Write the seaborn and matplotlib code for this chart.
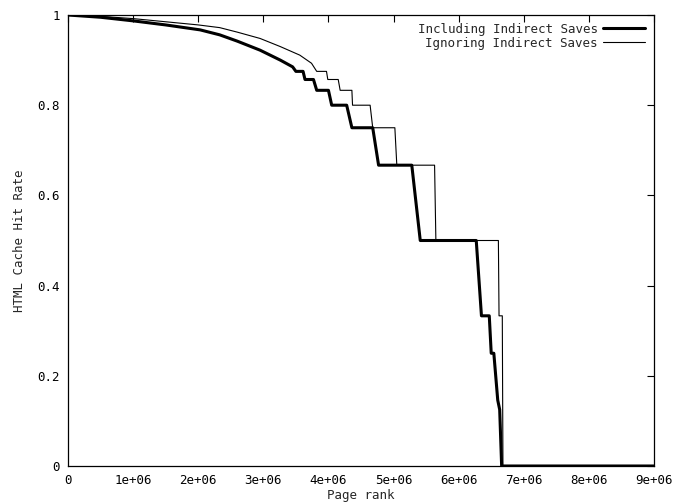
import matplotlib
matplotlib.use("Agg")
import matplotlib.pyplot as plt
import seaborn as sns
import pandas as pd

# Data (rank in units of 1e6)
incl_rank = [0.0, 0.5, 1.0, 1.5, 2.03, 2.33, 2.6, 2.95, 3.26, 3.45, 3.5, 3.61, 3.64, 3.77,
             3.82, 4.0, 4.05, 4.28, 4.36, 4.68, 4.77, 5.28, 5.41, 6.27, 6.35, 6.47, 6.5,
             6.54, 6.6, 6.63, 6.66, 9.0]
incl_rate = [1.0, 0.995, 0.987, 0.978, 0.967, 0.956, 0.942, 0.922, 0.900, 0.885, 0.875, 0.875,
             0.857, 0.857, 0.833, 0.833, 0.8, 0.8, 0.75, 0.75, 0.667, 0.667, 0.5, 0.5, 0.333,
             0.333, 0.25, 0.25, 0.146, 0.125, 0.0, 0.0]

ign_rank = [0.0, 0.5, 1.0, 1.5, 2.0, 2.33, 2.6, 2.95, 3.26, 3.56, 3.74, 3.82, 3.97, 3.99,
            4.15, 4.18, 4.36, 4.37, 4.64, 4.68, 5.02, 5.05, 5.63, 5.65, 6.61, 6.62, 6.67,
            6.68, 9.0]
ign_rate = [1.0, 0.997, 0.992, 0.985, 0.978, 0.972, 0.962, 0.948, 0.930, 0.911, 0.893, 0.875,
            0.875, 0.857, 0.857, 0.833, 0.833, 0.8, 0.8, 0.75, 0.75, 0.667, 0.667, 0.5, 0.5,
            0.333, 0.333, 0.0, 0.0]

x_ticks = [0, 1, 2, 3, 4, 5, 6, 7, 8, 9]
x_labels = ["0", "1e+06", "2e+06", "3e+06", "4e+06", "5e+06", "6e+06", "7e+06", "8e+06", "9e+06"]
y_ticks = [0, 0.2, 0.4, 0.6, 0.8, 1.0]
y_labels = ["0", "0.2", "0.4", "0.6", "0.8", "1"]

df_incl = pd.DataFrame({"rank": [r * 1e6 for r in incl_rank], "rate": incl_rate})
df_ign = pd.DataFrame({"rank": [r * 1e6 for r in ign_rank], "rate": ign_rate})

sns.set_style("white")
plt.rcParams['font.family'] = ['DejaVu Sans Mono', 'DejaVu Sans']

fig = plt.figure(figsize=(6.77, 5.04), dpi=100)
ax = fig.add_axes([68 / 677, 38 / 504, (654 - 68) / 677, (466 - 15) / 504])

sns.lineplot(data=df_ign, x="rank", y="rate", sort=False, estimator=None, ax=ax,
             color="black", linewidth=0.8, label="Ignoring Indirect Saves", zorder=2)
sns.lineplot(data=df_incl, x="rank", y="rate", sort=False, estimator=None, ax=ax,
             color="black", linewidth=2.2, label="Including Indirect Saves", zorder=3)

ax.set_xlim(0, 9e6)
ax.set_ylim(0, 1)
ax.set_xticks([t * 1e6 for t in x_ticks])
ax.set_xticklabels(x_labels)
ax.set_yticks(y_ticks)
ax.set_yticklabels(y_labels)
ax.tick_params(direction="in", length=5, width=0.8, top=True, right=True,
               labelsize=9, pad=6, colors="black")
for s in ax.spines.values():
    s.set_visible(True)
    s.set_color("black")
    s.set_linewidth(0.9)

ax.set_xlabel("Page rank", fontsize=9, labelpad=1)
ax.set_ylabel("HTML Cache Hit Rate", fontsize=9, labelpad=8)

handles, labels = ax.get_legend_handles_labels()
order = [1, 0]
leg = ax.legend([handles[i] for i in order], [labels[i] for i in order],
                loc="upper right", frameon=False, markerfirst=False, fontsize=9,
                handlelength=3.4, handletextpad=0.4, labelspacing=0.1,
                borderaxespad=0.2, bbox_to_anchor=(0.998, 1.0))

fig.savefig("out.png", dpi=100, facecolor="white")
